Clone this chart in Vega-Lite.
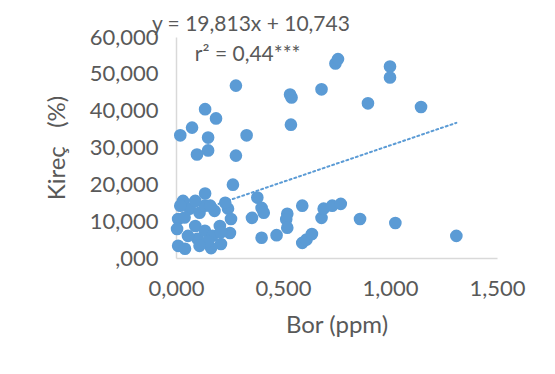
{
  "$schema": "https://vega.github.io/schema/vega-lite/v6.json",
  "width": 321,
  "height": 221,
  "autosize": {"type": "none"},
  "padding": {"left": 176, "top": 37, "right": 58, "bottom": 116},
  "background": "white",
  "config": {
    "view": {"stroke": null},
    "font": "Lato",
    "axis": {"labelFont": "Lato", "titleFont": "Lato", "labelColor": "#595959", "titleColor": "#595959", "titleFontWeight": "normal", "labelOverlap": false, "labelFlush": false, "grid": false, "ticks": false, "domainColor": "#D9D9D9", "domainWidth": 1.5}
  },
  "datasets": {
    "points": [
      {"bor": 0.28, "kirec": 46.8}, {"bor": 0.136, "kirec": 40.4}, {"bor": 0.187, "kirec": 37.9},
      {"bor": 0.075, "kirec": 35.4}, {"bor": 0.02, "kirec": 33.3}, {"bor": 0.15, "kirec": 32.7},
      {"bor": 0.33, "kirec": 33.3}, {"bor": 0.15, "kirec": 29.2}, {"bor": 0.098, "kirec": 28.1},
      {"bor": 0.28, "kirec": 27.8}, {"bor": 0.266, "kirec": 19.9}, {"bor": 0.533, "kirec": 44.4},
      {"bor": 0.54, "kirec": 43.6}, {"bor": 0.537, "kirec": 36.2}, {"bor": 0.68, "kirec": 45.8},
      {"bor": 0.745, "kirec": 52.8}, {"bor": 0.757, "kirec": 54.0}, {"bor": 1.0, "kirec": 52.0},
      {"bor": 1.0, "kirec": 49.0}, {"bor": 0.897, "kirec": 42.0}, {"bor": 1.145, "kirec": 41.0},
      {"bor": 0.38, "kirec": 16.4}, {"bor": 0.40, "kirec": 13.6}, {"bor": 0.355, "kirec": 10.9},
      {"bor": 0.41, "kirec": 12.3}, {"bor": 0.40, "kirec": 5.5}, {"bor": 0.47, "kirec": 6.2},
      {"bor": 0.52, "kirec": 12.0}, {"bor": 0.515, "kirec": 10.5}, {"bor": 0.52, "kirec": 8.2},
      {"bor": 0.59, "kirec": 14.2}, {"bor": 0.59, "kirec": 4.1}, {"bor": 0.61, "kirec": 5.0},
      {"bor": 0.635, "kirec": 6.5}, {"bor": 0.68, "kirec": 10.9}, {"bor": 0.69, "kirec": 13.4},
      {"bor": 0.73, "kirec": 14.2}, {"bor": 0.77, "kirec": 14.7}, {"bor": 0.86, "kirec": 10.6},
      {"bor": 1.025, "kirec": 9.5}, {"bor": 1.31, "kirec": 6.0},
      {"bor": 0.033, "kirec": 15.5}, {"bor": 0.136, "kirec": 17.5}, {"bor": 0.243, "kirec": 13.4},
      {"bor": 0.257, "kirec": 10.6}, {"bor": 0.252, "kirec": 6.8}, {"bor": 0.21, "kirec": 3.8},
      {"bor": 0.164, "kirec": 2.7}, {"bor": 0.01, "kirec": 10.6}, {"bor": 0.005, "kirec": 7.9},
      {"bor": 0.01, "kirec": 3.3}, {"bor": 0.042, "kirec": 2.5}, {"bor": 0.09, "kirec": 8.7},
      {"bor": 0.065, "kirec": 13.4}, {"bor": 0.11, "kirec": 12.3}, {"bor": 0.135, "kirec": 14.2},
      {"bor": 0.10, "kirec": 5.2}, {"bor": 0.056, "kirec": 6.0}, {"bor": 0.18, "kirec": 12.8},
      {"bor": 0.205, "kirec": 8.7}, {"bor": 0.135, "kirec": 7.4}, {"bor": 0.17, "kirec": 6.0},
      {"bor": 0.21, "kirec": 7.0}, {"bor": 0.02, "kirec": 14.2}, {"bor": 0.09, "kirec": 15.5},
      {"bor": 0.15, "kirec": 4.6}, {"bor": 0.11, "kirec": 3.3}, {"bor": 0.16, "kirec": 14.2},
      {"bor": 0.04, "kirec": 11.0}, {"bor": 0.23, "kirec": 15.0}
    ],
    "trend": [
      {"bor": 0.0, "kirec": 10.743},
      {"bor": 1.31, "kirec": 36.698}
    ],
    "notes": [
      {"bor": 0.35, "kirec": 63.3, "text": "y = 19,813x + 10,743"},
      {"bor": 0.335, "kirec": 55.1, "text": "r² = 0,44***"}
    ]
  },
  "encoding": {
    "x": {"field": "bor", "type": "quantitative",
      "scale": {"domain": [0, 1.5], "nice": false},
      "axis": {"values": [0, 0.5, 1, 1.5],
        "labelExpr": "replace(format(datum.value, '.3f'), '.', ',')", "labelFontSize": 22, "labelPadding": 20,
        "title": "Bor (ppm)", "titleFontSize": 24, "titlePadding": 14}},
    "y": {"field": "kirec", "type": "quantitative",
      "scale": {"domain": [0, 60], "nice": false},
      "axis": {"values": [0, 10, 20, 30, 40, 50, 60], "tickCount": 7,
        "labelExpr": "datum.value == 0 ? ',000' : replace(format(datum.value, '.3f'), '.', ',')", "labelFontSize": 22, "labelPadding": 18,
        "title": "Kireç\u00a0\u00a0\u00a0(%)", "titleFontSize": 24, "titlePadding": 20}}
  },
  "layer": [
    {
      "data": {"name": "trend"},
      "mark": {"type": "line", "color": "#5B9BD5", "strokeWidth": 2, "strokeDash": [2, 3], "strokeCap": "round"}
    },
    {
      "data": {"name": "points"},
      "mark": {"type": "circle", "color": "#5B9BD5", "opacity": 1, "size": 160}
    },
    {
      "data": {"name": "notes"},
      "mark": {"type": "text", "fontSize": 21, "color": "#595959", "font": "Lato"},
      "encoding": {
        "text": {"field": "text"}
      }
    }
  ]
}
